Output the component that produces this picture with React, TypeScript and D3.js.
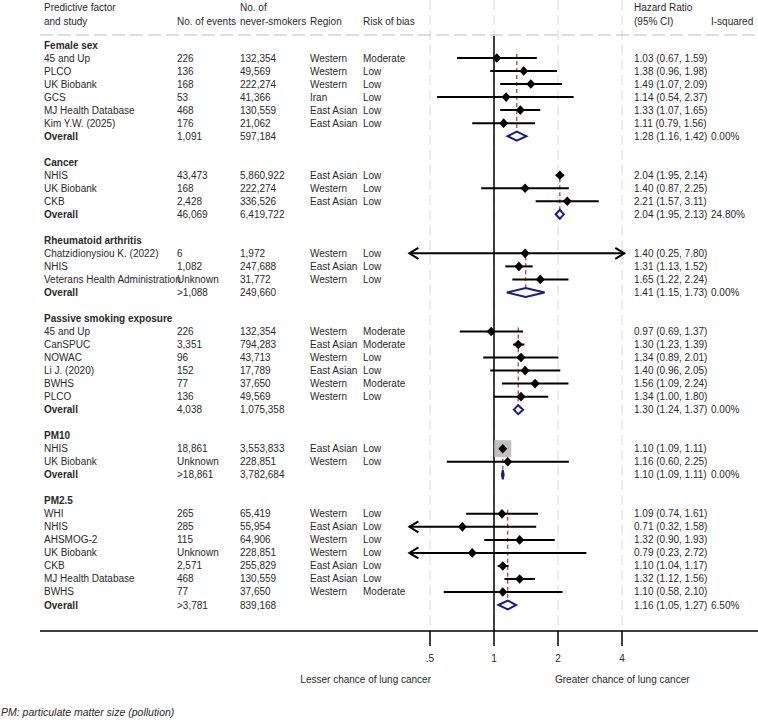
import React from "react";
import * as d3 from "d3";

// name, events, never-smokers, region, risk of bias, HR, lower, upper
type Study = [string, string, string, string, string, number, number, number];

const femaleSex: Study[] = [
  ["45 and Up", "226", "132,354", "Western", "Moderate", 1.03, 0.67, 1.59],
  ["PLCO", "136", "49,569", "Western", "Low", 1.38, 0.96, 1.98],
  ["UK Biobank", "168", "222,274", "Western", "Low", 1.49, 1.07, 2.09],
  ["GCS", "53", "41,366", "Iran", "Low", 1.14, 0.54, 2.37],
  ["MJ Health Database", "468", "130,559", "East Asian", "Low", 1.33, 1.07, 1.65],
  ["Kim Y.W. (2025)", "176", "21,062", "East Asian", "Low", 1.11, 0.79, 1.56],
];
const cancer: Study[] = [
  ["NHIS", "43,473", "5,860,922", "East Asian", "Low", 2.04, 1.95, 2.14],
  ["UK Biobank", "168", "222,274", "Western", "Low", 1.4, 0.87, 2.25],
  ["CKB", "2,428", "336,526", "East Asian", "Low", 2.21, 1.57, 3.11],
];
const rheumatoid: Study[] = [
  ["Chatzidionysiou K. (2022)", "6", "1,972", "Western", "Low", 1.4, 0.25, 7.8],
  ["NHIS", "1,082", "247,688", "East Asian", "Low", 1.31, 1.13, 1.52],
  ["Veterans Health Administration", "Unknown", "31,772", "Western", "Low", 1.65, 1.22, 2.24],
];
const passiveSmoking: Study[] = [
  ["45 and Up", "226", "132,354", "Western", "Moderate", 0.97, 0.69, 1.37],
  ["CanSPUC", "3,351", "794,283", "East Asian", "Moderate", 1.3, 1.23, 1.39],
  ["NOWAC", "96", "43,713", "Western", "Low", 1.34, 0.89, 2.01],
  ["Li J. (2020)", "152", "17,789", "East Asian", "Low", 1.4, 0.96, 2.05],
  ["BWHS", "77", "37,650", "Western", "Moderate", 1.56, 1.09, 2.24],
  ["PLCO", "136", "49,569", "Western", "Low", 1.34, 1.0, 1.8],
];
const pm10: Study[] = [
  ["NHIS", "18,861", "3,553,833", "East Asian", "Low", 1.1, 1.09, 1.11],
  ["UK Biobank", "Unknown", "228,851", "Western", "Low", 1.16, 0.6, 2.25],
];
const pm25: Study[] = [
  ["WHI", "265", "65,419", "Western", "Low", 1.09, 0.74, 1.61],
  ["NHIS", "285", "55,954", "East Asian", "Low", 0.71, 0.32, 1.58],
  ["AHSMOG-2", "115", "64,906", "Western", "Low", 1.32, 0.9, 1.93],
  ["UK Biobank", "Unknown", "228,851", "Western", "Low", 0.79, 0.23, 2.72],
  ["CKB", "2,571", "255,829", "East Asian", "Low", 1.1, 1.04, 1.17],
  ["MJ Health Database", "468", "130,559", "East Asian", "Low", 1.32, 1.12, 1.56],
  ["BWHS", "77", "37,650", "Western", "Moderate", 1.1, 0.58, 2.1],
];

const groupTitles = ["Female sex", "Cancer", "Rheumatoid arthritis", "Passive smoking exposure", "PM10", "PM2.5"];
const groupStudies = [femaleSex, cancer, rheumatoid, passiveSmoking, pm10, pm25];

// pooled estimates per group
const overallEvents = ["1,091", "46,069", ">1,088", "4,038", ">18,861", ">3,781"];
const overallN = ["597,184", "6,419,722", "249,660", "1,075,358", "3,782,684", "839,168"];
const overallHR = [1.28, 2.04, 1.41, 1.3, 1.1, 1.16];
const overallLower = [1.16, 1.95, 1.15, 1.24, 1.09, 1.05];
const overallUpper = [1.42, 2.13, 1.73, 1.37, 1.11, 1.27];
const iSquared = [0.0, 24.8, 0.0, 0.0, 0.0, 6.5];

const tickValues = [0.5, 1, 2, 4];
const tickLabels = [".5", "1", "2", "4"];

const W = 758;
const H = 720;
const FONT = "'Liberation Sans', Arial, sans-serif";
const NARROW = "'Liberation Sans Narrow', 'Arial Narrow', 'Liberation Sans', sans-serif";
const TXT = "#2a2a2a";

const col = { study: 44, events: 177, n: 240, region: 310, bias: 363, hr: 634, i2: 711 };
const axisY = 631;
const clipLo = 0.4;
const clipHi = 4.1;

type Row =
  | { kind: "title"; g: number }
  | { kind: "study"; g: number; s: Study }
  | { kind: "overall"; g: number }
  | { kind: "blank" };

const rows: Row[] = [];
groupStudies.forEach((studies, g) => {
  rows.push({ kind: "title", g });
  studies.forEach((s) => rows.push({ kind: "study", g, s }));
  rows.push({ kind: "overall", g });
  if (g < groupStudies.length - 1) rows.push({ kind: "blank" });
});

const fmt = (v: number) => v.toFixed(2);
const seOf = (lo: number, hi: number) => (Math.log(hi) - Math.log(lo)) / 3.92;

export default function App() {
  const x = d3.scaleLog().base(2).domain([0.5, 4]).range([430, 622]);
  const y = d3.scaleLinear().domain([0, rows.length - 1]).range([45, 605]);

  // inverse-variance weights for the grey boxes
  const allStudies = groupStudies.flat();
  const maxW = d3.max(allStudies, (s) => 1 / seOf(s[6], s[7]) ** 2) || 1;
  const boxSize = d3.scaleSqrt().domain([0, maxW]).range([0, 17]);

  const textProps = { fontFamily: FONT, fontSize: 10, fill: TXT, dy: "0.35em" };

  const marks: React.ReactNode[] = [];
  const labels: React.ReactNode[] = [];
  const refLines: React.ReactNode[] = [];

  rows.forEach((r, i) => {
    const cy = y(i);
    if (r.kind === "title") {
      labels.push(
        <text key={`t${i}`} x={col.study} y={cy} {...textProps} fontWeight="bold">
          {groupTitles[r.g]}
        </text>
      );
    } else if (r.kind === "study") {
      const [name, ev, n, region, bias, hr, lo, hi] = r.s;
      labels.push(
        <g key={`s${i}`}>
          <text x={col.study} y={cy} {...textProps}>{name}</text>
          <text x={col.events} y={cy} {...textProps}>{ev}</text>
          <text x={col.n} y={cy} {...textProps}>{n}</text>
          <text x={col.region} y={cy} {...textProps}>{region}</text>
          <text x={col.bias} y={cy} {...textProps}>{bias}</text>
          <text x={col.hr} y={cy} {...textProps}>{`${fmt(hr)} (${fmt(lo)}, ${fmt(hi)})`}</text>
        </g>
      );
      const bs = boxSize(1 / seOf(lo, hi) ** 2);
      const x0 = x(Math.max(lo, clipLo));
      const x1 = x(Math.min(hi, clipHi));
      const cx = x(hr);
      marks.push(
        <g key={`m${i}`}>
          {bs > 3 && <rect x={cx - bs / 2} y={cy - bs / 2} width={bs} height={bs} fill="#c0c0c0" />}
          <line x1={x0} x2={x1} y1={cy} y2={cy} stroke="#000" strokeWidth={2} />
          {lo < clipLo && (
            <polyline points={`${x0 + 9},${cy - 5.5} ${x0},${cy} ${x0 + 9},${cy + 5.5}`} fill="none" stroke="#000" strokeWidth={2} />
          )}
          {hi > clipHi && (
            <polyline points={`${x1 - 9},${cy - 5.5} ${x1},${cy} ${x1 - 9},${cy + 5.5}`} fill="none" stroke="#000" strokeWidth={2} />
          )}
          <polygon points={`${cx - 4.5},${cy} ${cx},${cy - 4.8} ${cx + 4.5},${cy} ${cx},${cy + 4.8}`} fill="#000" />
        </g>
      );
    } else if (r.kind === "overall") {
      const g = r.g;
      labels.push(
        <g key={`o${i}`}>
          <text x={col.study} y={cy} {...textProps} fontWeight="bold">Overall</text>
          <text x={col.events} y={cy} {...textProps}>{overallEvents[g]}</text>
          <text x={col.n} y={cy} {...textProps}>{overallN[g]}</text>
          <text x={col.hr} y={cy} {...textProps}>
            {`${fmt(overallHR[g])} (${fmt(overallLower[g])}, ${fmt(overallUpper[g])})`}
          </text>
          <text x={col.i2} y={cy} {...textProps}>{`${iSquared[g].toFixed(2)}%`}</text>
        </g>
      );
      const firstRow = i - groupStudies[g].length;
      const cx = x(overallHR[g]);
      refLines.push(
        <line
          key={`r${i}`}
          x1={cx}
          x2={cx}
          y1={y(firstRow) - 4}
          y2={cy - 4.5}
          stroke="#a8323e"
          strokeWidth={1.2}
          strokeDasharray="4 3"
        />
      );
      const lx = x(overallLower[g]);
      const ux = x(overallUpper[g]);
      marks.push(
        <polygon
          key={`d${i}`}
          points={`${lx},${cy} ${cx},${cy - 4.5} ${ux},${cy} ${cx},${cy + 4.5}`}
          fill="#fff"
          stroke="#1b1b88"
          strokeWidth={2}
          strokeLinejoin="miter"
        />
      );
    }
  });

  return (
    <svg width={W} height={H} style={{ position: "absolute", left: 0, top: 0, background: "#fff" }}>
      {/* vertical grid at the ticks */}
      {tickValues.map((t) => (
        <line key={`g${t}`} x1={x(t)} x2={x(t)} y1={0} y2={axisY} stroke="#ececec" strokeWidth={2} strokeDasharray="10 5" />
      ))}

      {/* header */}
      <g>
        <text x={col.study} y={7} {...textProps}>Predictive factor</text>
        <text x={col.study} y={21} {...textProps}>and study</text>
        <text x={col.events} y={21} {...textProps}>No. of events</text>
        <text x={col.n} y={7} {...textProps}>No. of</text>
        <text x={col.n} y={21} {...textProps}>never-smokers</text>
        <text x={col.region} y={21} {...textProps}>Region</text>
        <text x={col.bias} y={21} {...textProps}>Risk of bias</text>
        <text x={col.hr} y={7} {...textProps}>Hazard Ratio</text>
        <text x={col.hr} y={21} {...textProps}>(95% CI)</text>
        <text x={col.i2} y={21} {...textProps}>I-squared</text>
      </g>
      <line x1={40} x2={W} y1={35} y2={35} stroke="#bcbcbc" strokeWidth={1} strokeDasharray="13 5" />

      {/* null line */}
      <line x1={x(1)} x2={x(1)} y1={36} y2={axisY} stroke="#000" strokeWidth={1.5} />

      {refLines}
      {marks}
      {labels}

      {/* axis */}
      <line x1={40} x2={W} y1={axisY} y2={axisY} stroke="#000" strokeWidth={1.5} />
      {tickValues.map((t, k) => (
        <g key={`tk${t}`}>
          <line x1={x(t)} x2={x(t)} y1={axisY} y2={axisY + 15} stroke="#000" strokeWidth={1.5} />
          <text x={x(t)} y={658} fontFamily={NARROW} fontSize={10} fill={TXT} textAnchor="middle" dy="0.35em">
            {tickLabels[k]}
          </text>
        </g>
      ))}
      <text x={431} y={679} fontFamily={NARROW} fontSize={10} fill={TXT} textAnchor="end" dy="0.35em">
        Lesser chance of lung cancer
      </text>
      <text x={555} y={679} fontFamily={NARROW} fontSize={10} fill={TXT} dy="0.35em">
        Greater chance of lung cancer
      </text>

      <text x={1} y={712} fontFamily={FONT} fontSize={10.5} fontStyle="italic" fill={TXT} dy="0.35em">
        PM: particulate matter size (pollution)
      </text>
    </svg>
  );
}
